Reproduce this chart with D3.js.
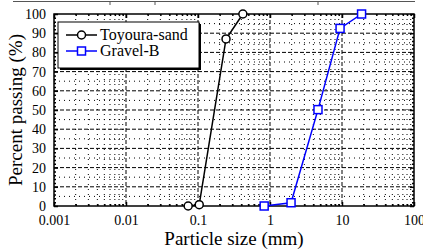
<!DOCTYPE html>
<html>
<head>
<meta charset="utf-8">
<script src="https://cdn.jsdelivr.net/npm/d3@7"></script>
</head>
<body style="margin:0; background:#fff">
<div id="container"></div>
<script>
// data
var sandSize = [0.073, 0.104, 0.245, 0.42];
var sandPass = [0, 0.7, 87, 100];
var gravelSize = [0.83, 1.96, 4.64, 9.4, 18.7];
var gravelPass = [0, 1.7, 50.2, 92.5, 100];
var xTicks = [0.001, 0.01, 0.1, 1, 10, 100];
var xTickLabels = ["0.001", "0.01", "0.1", "1", "10", "100"];
var yTicks = [0, 10, 20, 30, 40, 50, 60, 70, 80, 90, 100];
var seriesNames = ["Toyoura-sand", "Gravel-B"];

var width = 423, height = 252;
var pLeft = 54, pRight = 414, pTop = 14, pBottom = 206;

var svg = d3.select("#container").append("svg")
  .attr("width", width).attr("height", height)
  .style("display", "block");

var x = d3.scaleLog().domain([0.001, 100]).range([pLeft, pRight]);
var y = d3.scaleLinear().domain([0, 100]).range([pBottom, pTop]);

// bits of the figure above, cut off at the top
svg.append("line").attr("x1", 13).attr("x2", 415).attr("y1", 1.5).attr("y2", 1.5)
  .attr("stroke", "#555").attr("stroke-width", 1);
[110, 155, 318].forEach(function(p) {
  svg.append("line").attr("x1", p).attr("x2", p).attr("y1", 1.5).attr("y2", 5)
    .attr("stroke", "#555").attr("stroke-width", 1);
});

// minor values
var minorX = [];
for (var e = -3; e < 2; e++) {
  for (var m = 2; m <= 9; m++) minorX.push(m * Math.pow(10, e));
}
var minorY = d3.range(5, 100, 10);

var grid = svg.append("g");
grid.selectAll(".mx").data(minorX).enter().append("line")
  .attr("x1", function(d) { return x(d); }).attr("x2", function(d) { return x(d); })
  .attr("y1", pTop).attr("y2", pBottom)
  .attr("stroke", "#000").attr("stroke-width", 1).attr("stroke-dasharray", "1,4");
grid.selectAll(".my").data(minorY).enter().append("line")
  .attr("x1", pLeft).attr("x2", pRight)
  .attr("y1", function(d) { return y(d); }).attr("y2", function(d) { return y(d); })
  .attr("stroke", "#000").attr("stroke-width", 1).attr("stroke-dasharray", "1,4");
grid.selectAll(".Mx").data(xTicks.slice(1, -1)).enter().append("line")
  .attr("x1", function(d) { return x(d); }).attr("x2", function(d) { return x(d); })
  .attr("y1", pTop).attr("y2", pBottom)
  .attr("stroke", "#000").attr("stroke-width", 1).attr("stroke-dasharray", "4,2");
grid.selectAll(".My").data(yTicks.slice(1, -1)).enter().append("line")
  .attr("x1", pLeft).attr("x2", pRight)
  .attr("y1", function(d) { return y(d); }).attr("y2", function(d) { return y(d); })
  .attr("stroke", "#000").attr("stroke-width", 1).attr("stroke-dasharray", "4,2");

// axes
var xAxis = d3.axisBottom(x).tickValues(xTicks).tickFormat(function(d, i) { return xTickLabels[i]; })
  .tickSizeInner(-4).tickSizeOuter(0).tickPadding(9);
var gx = svg.append("g").attr("transform", "translate(0," + pBottom + ")").call(xAxis);
gx.select(".domain").remove();
gx.selectAll("text").attr("font-size", 14).attr("fill", "#000");

var xMinor = d3.axisBottom(x).tickValues(minorX).tickFormat("").tickSizeInner(-2).tickSizeOuter(0);
svg.append("g").attr("transform", "translate(0," + pBottom + ")").call(xMinor).select(".domain").remove();
svg.append("g").attr("transform", "translate(0," + pTop + ")")
  .call(d3.axisTop(x).tickValues(minorX).tickFormat("").tickSizeInner(-2).tickSizeOuter(0))
  .select(".domain").remove();
svg.append("g").attr("transform", "translate(0," + pTop + ")")
  .call(d3.axisTop(x).tickValues(xTicks).tickFormat("").tickSizeInner(-4).tickSizeOuter(0))
  .select(".domain").remove();

var yAxis = d3.axisLeft(y).tickValues(yTicks).tickSizeInner(-4).tickSizeOuter(0).tickPadding(8);
var gy = svg.append("g").attr("transform", "translate(" + pLeft + ",0)").call(yAxis);
gy.select(".domain").remove();
gy.selectAll("text").attr("font-size", 14).attr("fill", "#000");

var yMinorVals = d3.range(2, 100, 2).filter(function(d) { return d % 10 !== 0; });
svg.append("g").attr("transform", "translate(" + pLeft + ",0)")
  .call(d3.axisLeft(y).tickValues(yMinorVals).tickFormat("").tickSizeInner(-2).tickSizeOuter(0))
  .select(".domain").remove();
svg.append("g").attr("transform", "translate(" + pRight + ",0)")
  .call(d3.axisRight(y).tickValues(yMinorVals).tickFormat("").tickSizeInner(-2).tickSizeOuter(0))
  .select(".domain").remove();
svg.append("g").attr("transform", "translate(" + pRight + ",0)")
  .call(d3.axisRight(y).tickValues(yTicks).tickFormat("").tickSizeInner(-4).tickSizeOuter(0))
  .select(".domain").remove();

svg.selectAll(".tick line").attr("stroke", "#000").attr("stroke-width", 1.5);

// frame
svg.append("rect").attr("x", pLeft).attr("y", pTop)
  .attr("width", pRight - pLeft).attr("height", pBottom - pTop)
  .attr("fill", "none").attr("stroke", "#000").attr("stroke-width", 1.5);

// axis titles
svg.append("text").attr("x", (pLeft + pRight) / 2).attr("y", 245)
  .attr("text-anchor", "middle").attr("font-size", 19).text("Particle size (mm)");
svg.append("text").attr("transform", "translate(22," + (pTop + pBottom) / 2 + ") rotate(-90)")
  .attr("text-anchor", "middle").attr("font-size", 19).text("Percent passing (%)");

// series
var line = d3.line().x(function(d) { return x(d[0]); }).y(function(d) { return y(d[1]); });
var sand = d3.zip(sandSize, sandPass);
var gravel = d3.zip(gravelSize, gravelPass);

svg.append("path").datum(sand).attr("d", line)
  .attr("fill", "none").attr("stroke", "#000").attr("stroke-width", 1.5);
svg.selectAll(".sand").data(sand).enter().append("circle")
  .attr("cx", function(d) { return x(d[0]); }).attr("cy", function(d) { return y(d[1]); })
  .attr("r", 4).attr("fill", "#fff").attr("stroke", "#000").attr("stroke-width", 1.5);

svg.append("path").datum(gravel).attr("d", line)
  .attr("fill", "none").attr("stroke", "#0000ff").attr("stroke-width", 1.5);
svg.selectAll(".gravel").data(gravel).enter().append("rect")
  .attr("x", function(d) { return x(d[0]) - 4; }).attr("y", function(d) { return y(d[1]) - 4; })
  .attr("width", 8).attr("height", 8)
  .attr("fill", "#fff").attr("stroke", "#0000ff").attr("stroke-width", 1.5);

// legend
var lg = svg.append("g");
lg.append("rect").attr("x", 60).attr("y", 24).attr("width", 141).attr("height", 46).attr("fill", "#000");
lg.append("rect").attr("x", 58).attr("y", 22).attr("width", 141).attr("height", 46)
  .attr("fill", "#fff").attr("stroke", "#000").attr("stroke-width", 1);
var rows = [35, 51];
lg.selectAll(".ll").data(rows).enter().append("line")
  .attr("x1", 66).attr("x2", 97).attr("y1", function(d) { return d; }).attr("y2", function(d) { return d; })
  .attr("stroke", function(d, i) { return i ? "#0000ff" : "#000"; }).attr("stroke-width", 1.5);
lg.append("circle").attr("cx", 81.5).attr("cy", rows[0]).attr("r", 4)
  .attr("fill", "#fff").attr("stroke", "#000").attr("stroke-width", 1.5);
lg.append("rect").attr("x", 77.5).attr("y", rows[1] - 4).attr("width", 8).attr("height", 8)
  .attr("fill", "#fff").attr("stroke", "#0000ff").attr("stroke-width", 1.5);
lg.selectAll(".lt").data(seriesNames).enter().append("text")
  .attr("x", 100).attr("y", function(d, i) { return rows[i] + 5; })
  .attr("font-size", 16).text(function(d) { return d; });

svg.selectAll("g").attr("font-family", null);
svg.selectAll("text").style("font-family", "Liberation Serif");
</script>
</body>
</html>
